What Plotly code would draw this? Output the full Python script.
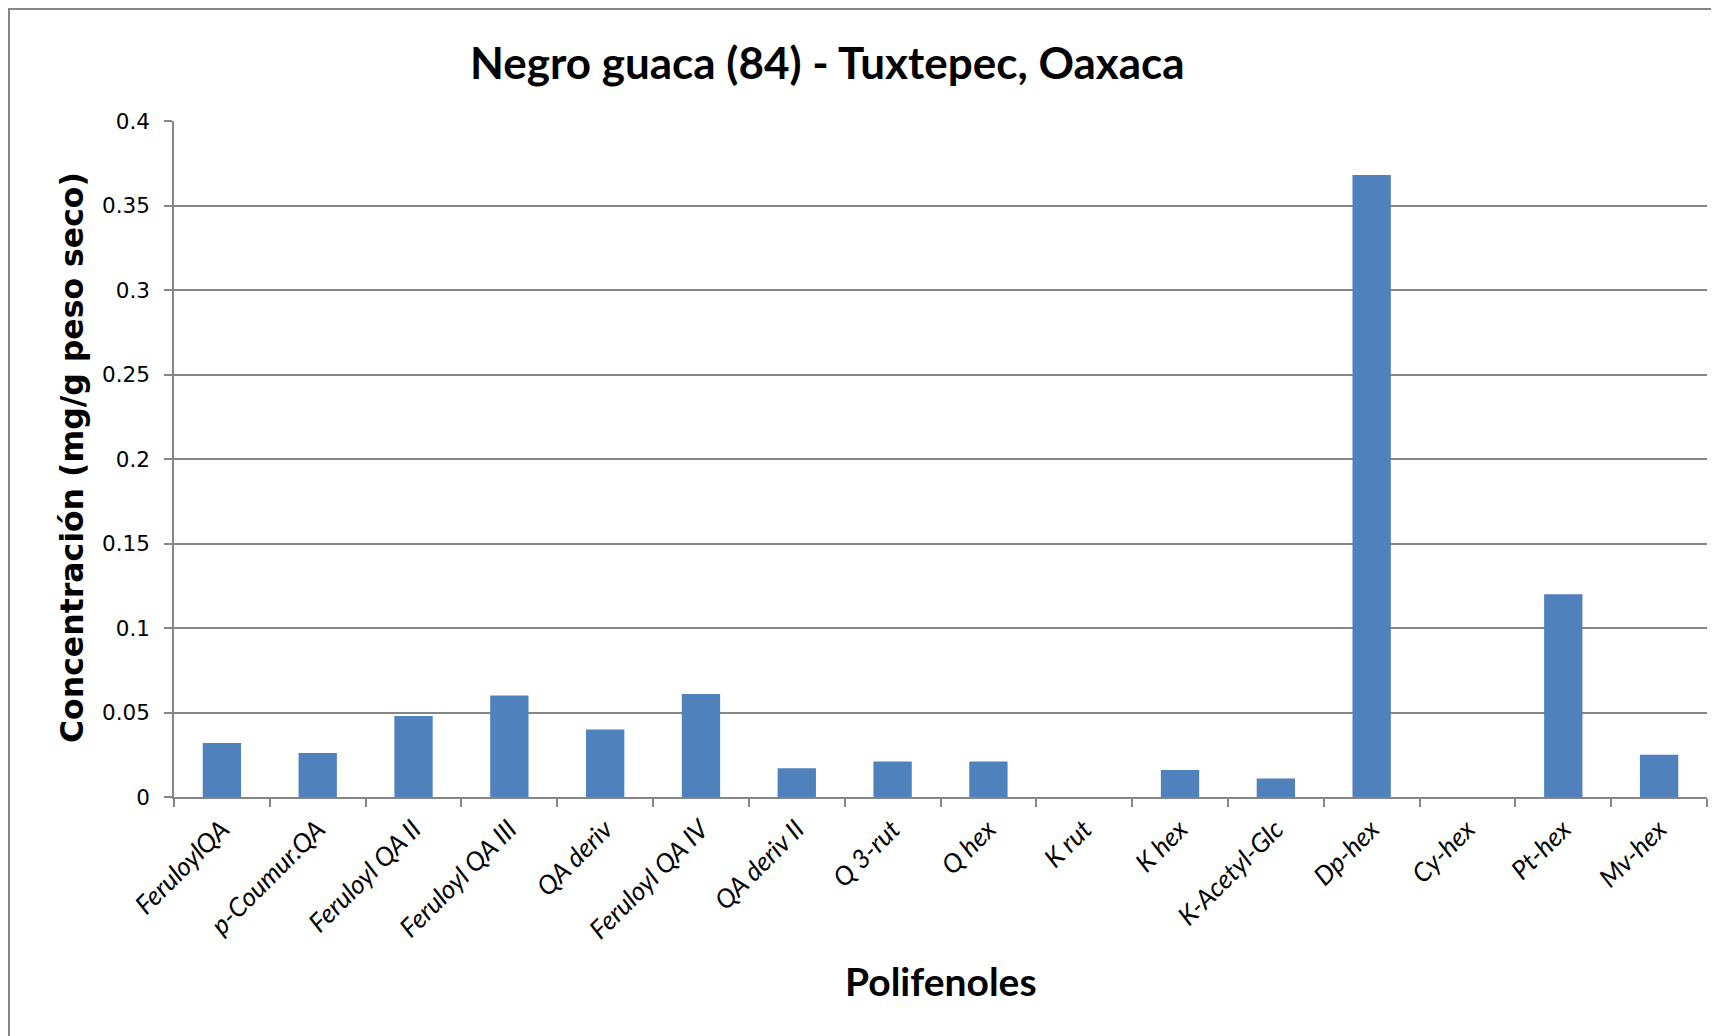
import plotly.graph_objects as go

categories = ["FeruloylQA", "p-Coumur.QA", "Feruloyl QA II", "Feruloyl QA III", "QA deriv",
              "Feruloyl QA IV", "QA deriv II", "Q 3-rut", "Q hex", "K rut", "K hex",
              "K-Acetyl-Glc", "Dp-hex", "Cy-hex", "Pt-hex", "Mv-hex"]
values = [0.032, 0.026, 0.048, 0.060, 0.040, 0.061, 0.017, 0.021, 0.021, 0.0, 0.016,
          0.011, 0.368, 0.0, 0.120, 0.025]
y_ticks = [0, 0.05, 0.1, 0.15, 0.2, 0.25, 0.3, 0.35, 0.4]
y_tick_labels = ["0", "0.05", "0.1", "0.15", "0.2", "0.25", "0.3", "0.35", "0.4"]

title_text = "Negro guaca (84) - Tuxtepec, Oaxaca"
y_title = "Concentración (mg/g peso seco)"
x_title = "Polifenoles"

OFF = 8  # page body margin
W, H = 1719 - OFF, 1036 - OFF
L, R, T, B = 174 - OFF, 12, 121 - OFF, 239
pw, ph = W - L - R, H - T - B

def px(x):
    return (x - OFF - L) / pw

def py(y):
    return (H - B - (y - OFF)) / ph

GRID = "#868686"

fig = go.Figure()
fig.add_trace(go.Bar(x=categories, y=values, marker=dict(color="#4F81BD", line=dict(width=0)),
                     showlegend=False))

fig.update_layout(
    width=W, height=H,
    margin=dict(l=L, r=R, t=T, b=B, pad=0),
    paper_bgcolor="white", plot_bgcolor="white",
    bargap=0.6,
    xaxis=dict(
        type="category", tickangle=-45, showgrid=False,
        showline=True, linecolor=GRID, linewidth=1.5,
        ticks="outside", tickson="boundaries", ticklen=8, tickcolor=GRID, tickwidth=1.5,
        ticklabelstandoff=5,
        tickfont=dict(family="Lato", size=26, color="black", style="italic"),
    ),
    yaxis=dict(
        range=[0, 0.4], tickvals=y_ticks, ticktext=y_tick_labels,
        showgrid=True, gridcolor=GRID, gridwidth=1.5,
        showline=True, linecolor=GRID, linewidth=1.5,
        ticks="outside", ticklen=8, tickcolor=GRID, tickwidth=1.5,
        ticklabelstandoff=10,
        tickfont=dict(family="DejaVu Sans", size=21.5, color="black"),
        zeroline=False,
    ),
    annotations=[
        dict(text=title_text, xref="paper", yref="paper", x=px(827), y=py(62),
             xanchor="center", yanchor="middle", showarrow=False,
             font=dict(family="Lato", size=44, color="black", weight="bold")),
        dict(text=y_title, xref="paper", yref="paper", x=px(72), y=py(458),
             xanchor="center", yanchor="middle", showarrow=False, textangle=-90,
             font=dict(family="DejaVu Sans", size=31.5, color="black", weight="bold")),
        dict(text=x_title, xref="paper", yref="paper", x=px(941), y=py(981),
             xanchor="center", yanchor="middle", showarrow=False,
             font=dict(family="Lato", size=39, color="black", weight="bold")),
    ],
    shapes=[
        dict(type="rect", xref="paper", yref="paper", x0=px(9), y0=py(1100), x1=px(1800), y1=py(9),
             line=dict(color=GRID, width=2), fillcolor="rgba(0,0,0,0)", layer="below"),
    ],
)

fig.write_html("out.html")
